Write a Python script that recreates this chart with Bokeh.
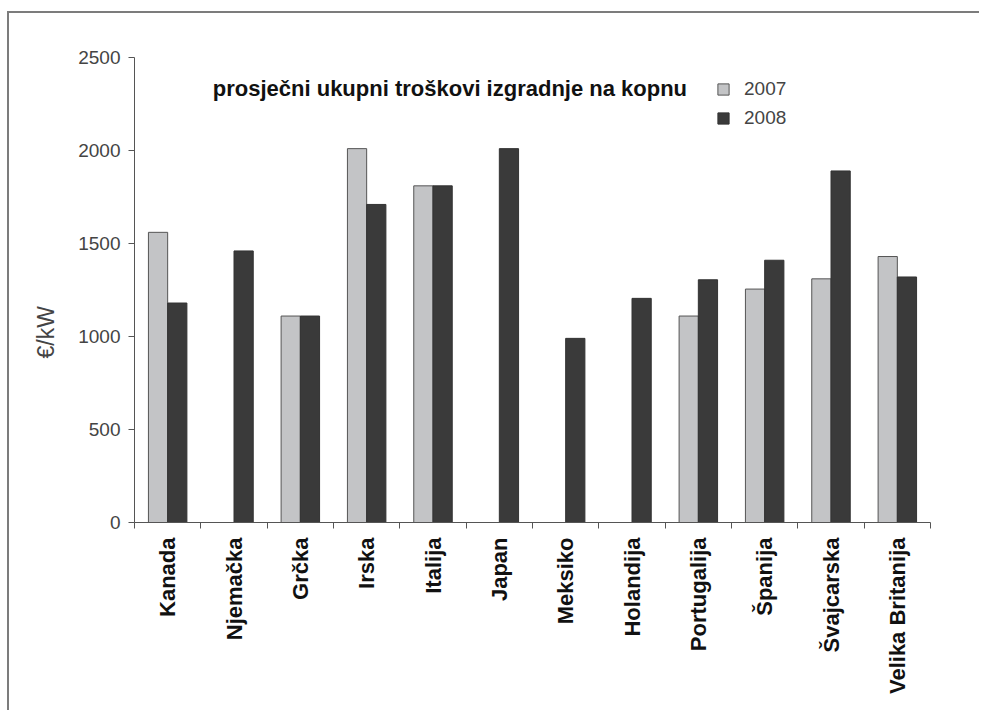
import math

from bokeh.plotting import figure
from bokeh.models import (Range1d, FixedTicker, Label, Legend, LegendItem,
                          Title, ColumnDataSource)
from bokeh.embed import file_html
from bokeh.resources import INLINE

# Average total installed cost of onshore wind, EUR per kW
countries = ["Kanada", "Njemačka", "Grčka", "Irska", "Italija", "Japan",
             "Meksiko", "Holandija", "Portugalija", "Španija", "Švajcarska",
             "Velika Britanija"]
cost_2007 = [1560, None, 1110, 2010, 1810, None, None, None, 1110, 1255, 1310, 1430]
cost_2008 = [1180, 1460, 1110, 1710, 1810, 2010, 990, 1205, 1305, 1410, 1890, 1320]
y_ticks = [0, 500, 1000, 1500, 2000, 2500]
title_text = "prosječni ukupni troškovi izgradnje  na kopnu"
y_label = "€/kW"
series_names = ["2007", "2008"]

FONT = "Liberation Sans"
BAR_W = 0.29

centers = [i + 0.5 for i in range(len(countries))]


def present(values, shift):
    xs, tops = [], []
    for c, v in zip(centers, values):
        if v is not None:
            xs.append(c + shift)
            tops.append(v)
    return ColumnDataSource(dict(x=xs, top=tops))


p = figure(width=972, height=699, output_backend="svg", toolbar_location=None,
           x_range=Range1d(0, len(countries)), y_range=Range1d(0, 2500),
           min_border_left=125, min_border_right=51,
           min_border_top=44, min_border_bottom=190)
# thin frame along the top and left edges of the figure
p.margin = (11, 0, 0, 7)
p.styles = {"border-left": "2px solid #7c7c7c", "border-top": "2px solid #7c7c7c"}
p.outline_line_color = None
p.grid.grid_line_color = None
p.background_fill_color = "white"
p.border_fill_color = "white"

r07 = p.vbar(x="x", top="top", width=BAR_W, source=present(cost_2007, -BAR_W / 2),
             fill_color="#c3c4c6", line_color="#555555", line_width=1)
r08 = p.vbar(x="x", top="top", width=BAR_W, source=present(cost_2008, BAR_W / 2),
             fill_color="#3a3a3a", line_color="#333333", line_width=1)

# y axis
ya = p.yaxis[0]
ya.ticker = FixedTicker(ticks=y_ticks)
ya.axis_line_color = "#555555"
ya.major_tick_line_color = "#555555"
ya.major_tick_out = 6
ya.major_tick_in = 0
ya.minor_tick_line_color = None
ya.major_label_text_font = FONT
ya.major_label_text_font_size = "19px"
ya.major_label_text_color = "#444444"
ya.major_label_standoff = 8

# axis title, set a little below the middle of the axis
p.add_layout(Title(text=y_label, align="left", offset=164, standoff=30,
                   vertical_align="top",
                   text_font=FONT, text_font_size="23px",
                   text_font_style="normal", text_color="#444444"), "left")

# x axis: labels at category centres, tick marks at category boundaries
xa = p.xaxis[0]
xa.ticker = FixedTicker(ticks=centers, minor_ticks=list(range(len(countries) + 1)))
xa.major_label_overrides = {c: name for c, name in zip(centers, countries)}
xa.axis_line_color = "#555555"
xa.major_tick_line_color = None
xa.major_tick_out = 0
xa.major_tick_in = 0
xa.minor_tick_line_color = "#555555"
xa.minor_tick_out = 6
xa.minor_tick_in = 0
xa.major_label_orientation = math.pi / 2
xa.major_label_text_font = FONT
xa.major_label_text_font_size = "22px"
xa.major_label_text_font_style = "bold"
xa.major_label_text_color = "#111111"
xa.major_label_standoff = 9

# chart heading
p.add_layout(Label(x=1.18, y=2335, text=title_text, text_font=FONT,
                   text_font_size="22px", text_font_style="bold",
                   text_color="#111111", text_baseline="middle"))

legend = Legend(items=[LegendItem(label=series_names[0], renderers=[r07]),
                       LegendItem(label=series_names[1], renderers=[r08])],
                location=(582, 392), orientation="vertical",
                glyph_width=14, glyph_height=14, label_height=24, spacing=5,
                padding=0, margin=0, label_standoff=14,
                label_text_font=FONT, label_text_font_size="19px",
                label_text_color="#444444",
                border_line_color=None, background_fill_color=None)
p.add_layout(legend)

open("out.html", "w").write(file_html(p, INLINE))
